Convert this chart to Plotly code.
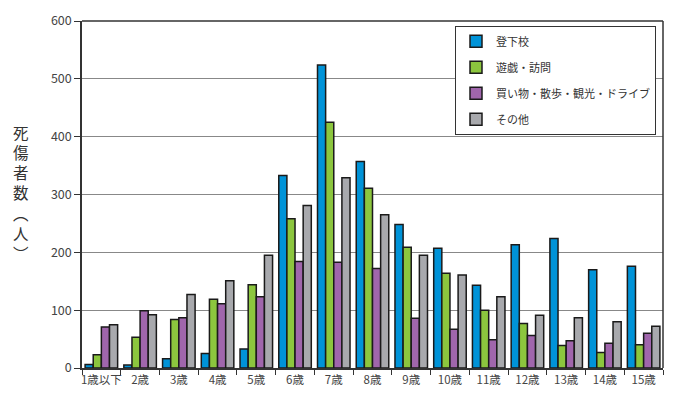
import plotly.graph_objects as go

categories = ["1歳以下", "2歳", "3歳", "4歳", "5歳", "6歳", "7歳", "8歳", "9歳", "10歳",
              "11歳", "12歳", "13歳", "14歳", "15歳"]
commute = [6, 5, 16, 25, 33, 333, 524, 357, 248, 207, 143, 213, 224, 170, 176]
play = [23, 53, 84, 119, 144, 258, 425, 311, 209, 164, 100, 77, 39, 27, 40]
shopping = [71, 99, 87, 111, 123, 184, 183, 172, 86, 67, 49, 56, 47, 43, 60]
other = [75, 92, 127, 151, 195, 281, 329, 265, 195, 161, 123, 91, 87, 80, 72]

series_names = ["登下校", "遊戯・訪問", "買い物・散歩・観光・ドライブ", "その他"]
series_values = [commute, play, shopping, other]
colors = ["#0093D8", "#8CC63E", "#A066AC", "#A8A9AD"]

y_ticks = [0, 100, 200, 300, 400, 500, 600]
y_title_chars = ["死", "傷", "者", "数", "︵", "人", "︶"]

font_family = "Noto Sans CJK JP, Noto Sans, sans-serif"

fig = go.Figure()
for i, (name, vals, col) in enumerate(zip(series_names, series_values, colors)):
    fig.add_trace(go.Bar(
        x=categories, y=vals, name=name, legendgroup=f"g{i}",
        marker=dict(color=col, line=dict(color="#1a1a1a", width=1.5)),
    ))

fig.update_layout(
    width=673, height=406,
    margin=dict(l=82, r=10, t=17, b=38),
    paper_bgcolor="white", plot_bgcolor="white",
    barmode="group", bargap=0.16, bargroupgap=0,
    font=dict(family=font_family, size=12, color="#333333"),
    showlegend=True,
    legend=dict(
        x=0.642, y=0.986, xanchor="left", yanchor="top",
        bgcolor="white", bordercolor="#333333", borderwidth=1,
        font=dict(size=11, color="#333333"),
        tracegroupgap=7, itemwidth=30,
    ),
    xaxis=dict(
        showline=True, linecolor="#333333", linewidth=1.5,
        ticks="outside", tickson="boundaries", ticklen=5, tickcolor="#333333",
        tickfont=dict(size=11.5, color="#444444"), tickangle=0,
        mirror=False, showgrid=False,
    ),
    yaxis=dict(
        range=[0, 600], tickvals=y_ticks,
        showline=True, linecolor="#333333", linewidth=1.5,
        ticks="outside", ticklen=6, tickcolor="#333333",
        tickfont=dict(size=12.5, color="#444444"),
        showgrid=True, gridcolor="#888888", gridwidth=1.2,
        zeroline=False,
    ),
)

# right frame line and top line
fig.add_shape(type="line", xref="paper", yref="paper", x0=1, x1=1, y0=0, y1=1,
              line=dict(color="#333333", width=1.5))
fig.add_shape(type="line", xref="paper", yref="paper", x0=0, x1=1, y0=1, y1=1,
              line=dict(color="#333333", width=1.5))

# vertical y-axis title (stacked characters)
plot_h = 406 - 17 - 38
fig.add_annotation(
    text="<br>".join(y_title_chars), xref="paper", yref="paper",
    x=-0.105, y=1 - (190 - 17) / plot_h, xanchor="center", yanchor="middle",
    showarrow=False, borderpad=0,
    font=dict(size=15.5, color="#333333", family=font_family),
)

fig.write_html("out.html")
